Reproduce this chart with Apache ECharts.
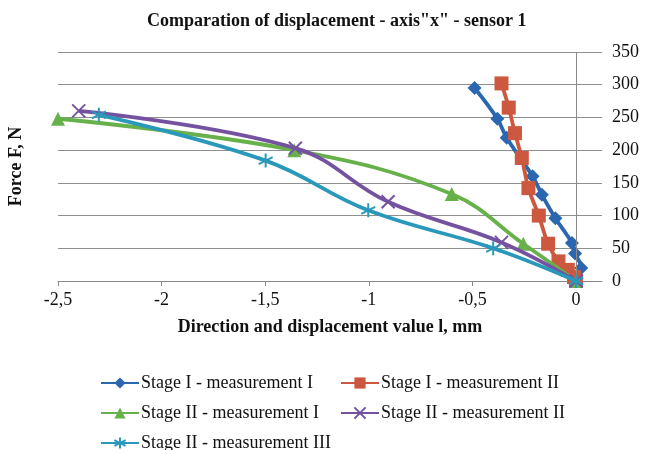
<!DOCTYPE html>
<html>
<head>
<meta charset="utf-8">
<script src="https://cdn.jsdelivr.net/npm/echarts@6/dist/echarts.min.js"></script>
<style>
  html, body { margin: 0; padding: 0; background: #ffffff; }
  #chart { width: 647px; height: 450px; }
</style>
</head>
<body>
<div id="chart"></div>
<script>
// Displacement along axis "x" (mm) and applied force (N), per stage and measurement
const stage1m1X = [-0.49, -0.38, -0.335, -0.21, -0.165, -0.10, -0.02, -0.005, 0.025, 0];
const stage1m1Y = [295, 248, 219, 160, 132, 96, 58, 42, 20, 0];

const stage1m2X = [-0.36, -0.325, -0.295, -0.262, -0.23, -0.18, -0.135, -0.085, -0.04, -0.01, 0];
const stage1m2Y = [302, 265, 226, 188, 142, 100, 57, 30, 17, 6, 0];

const stage2m1X = [-2.5, -1.36, -0.6, -0.255, 0];
const stage2m1Y = [248, 200, 133, 57, 0];

const stage2m2X = [-2.4, -1.355, -0.907, -0.36, 0];
const stage2m2Y = [260, 203, 121, 59, 0];

const stage2m3X = [-2.303, -1.498, -1.003, -0.40, 0];
const stage2m3Y = [254, 184, 108, 50, 0];

const seriesNames = [
  'Stage I - measurement I',
  'Stage I - measurement II',
  'Stage II - measurement I',
  'Stage II - measurement II',
  'Stage II - measurement III'
];
const xTickValues = [-2.5, -2, -1.5, -1, -0.5, 0];

const FONT = '"Liberation Serif", "Times New Roman", serif';
const colors = ['#2A67B0', '#CB583F', '#67B14B', '#7452A0', '#2A98BA'];

const pairs = (xs, ys) => xs.map((x, i) => [x, ys[i]]);

const crossPath = 'path://M0,0L10,10M10,0L0,10';
const starPath = 'path://M5,0L5,10M0.7,2.5L9.3,7.5M0.7,7.5L9.3,2.5';

function lineSeries(idx, data, symbol, size, extra) {
  return Object.assign({
    name: seriesNames[idx],
    type: 'line',
    data: data,
    smooth: 0.4,
    symbol: symbol,
    symbolSize: size,
    showAllSymbol: true,
    lineStyle: { color: colors[idx], width: 3.8 },
    itemStyle: { color: colors[idx], borderColor: colors[idx], borderWidth: 0 },
    z: 3 + idx
  }, extra || {});
}

const chart = echarts.init(document.getElementById('chart'), null, { renderer: 'canvas' });

function legendItem(idx, left, top) {
  return {
    data: [seriesNames[idx]],
    left: left,
    top: top,
    padding: 0,
    itemWidth: 38,
    itemHeight: 14,
    itemGap: 0,
    textStyle: { fontFamily: FONT, fontSize: 18, color: '#111', padding: [0, 0, 0, -3] }
  };
}

const option = {
  animation: false,
  backgroundColor: '#ffffff',
  title: {
    text: 'Comparation of displacement - axis"x" - sensor 1',
    left: 147,
    top: 12,
    padding: 0,
    textStyle: { fontFamily: FONT, fontSize: 18, fontWeight: 'bold', color: '#111' }
  },
  grid: { left: 58, right: 45, top: 52, bottom: 169, containLabel: false, outerBoundsMode: 'none' },
  xAxis: {
    type: 'value',
    min: -2.5,
    max: 0.125,
    interval: 0.5,
    name: 'Direction and displacement value l, mm',
    nameLocation: 'middle',
    nameGap: 37,
    nameTextStyle: { fontFamily: FONT, fontSize: 18, fontWeight: 'bold', color: '#111' },
    axisLine: { show: true, onZero: false, lineStyle: { color: '#8a8a8a', width: 1 } },
    axisTick: { show: true, length: 5, customValues: xTickValues, lineStyle: { color: '#8a8a8a' } },
    axisLabel: {
      customValues: xTickValues,
      margin: 10,
      fontFamily: FONT,
      fontSize: 18,
      color: '#111',
      formatter: v => String(v).replace('.', ',')
    },
    splitLine: { show: false }
  },
  yAxis: [
    {
      type: 'value',
      position: 'right',
      min: 0,
      max: 350,
      interval: 50,
      axisLine: { show: false },
      axisTick: { show: false },
      axisLabel: { margin: 10, fontFamily: FONT, fontSize: 18, color: '#111' },
      splitLine: { show: true, lineStyle: { color: '#8f8f8f', width: 1 } }
    },
    {
      type: 'value',
      position: 'left',
      min: 0,
      max: 350,
      name: 'Force F, N',
      nameLocation: 'middle',
      nameRotate: 90,
      nameGap: 33,
      nameTextStyle: { fontFamily: FONT, fontSize: 18, fontWeight: 'bold', color: '#111' },
      axisLine: { show: false },
      axisTick: { show: false },
      axisLabel: { show: false },
      splitLine: { show: false }
    }
  ],
  legend: [
    legendItem(0, 100, 374),
    legendItem(1, 340, 374),
    legendItem(2, 100, 404),
    legendItem(3, 340, 404),
    legendItem(4, 100, 434)
  ],
  series: [
    lineSeries(0, pairs(stage1m1X, stage1m1Y), 'diamond', 14, {
      markLine: {
        silent: true,
        symbol: 'none',
        label: { show: false },
        lineStyle: { color: '#8a8a8a', width: 1, type: 'solid' },
        data: [{ xAxis: 0 }]
      }
    }),
    lineSeries(1, pairs(stage1m2X, stage1m2Y), 'rect', 14),
    lineSeries(2, pairs(stage2m1X, stage2m1Y), 'triangle', 14),
    lineSeries(3, pairs(stage2m2X, stage2m2Y), crossPath, 13, {
      itemStyle: { color: colors[3], borderColor: colors[3], borderWidth: 2 }
    }),
    lineSeries(4, pairs(stage2m3X, stage2m3Y), starPath, 14, {
      itemStyle: { color: colors[4], borderColor: colors[4], borderWidth: 2 }
    })
  ]
};

chart.setOption(option);
</script>
</body>
</html>
